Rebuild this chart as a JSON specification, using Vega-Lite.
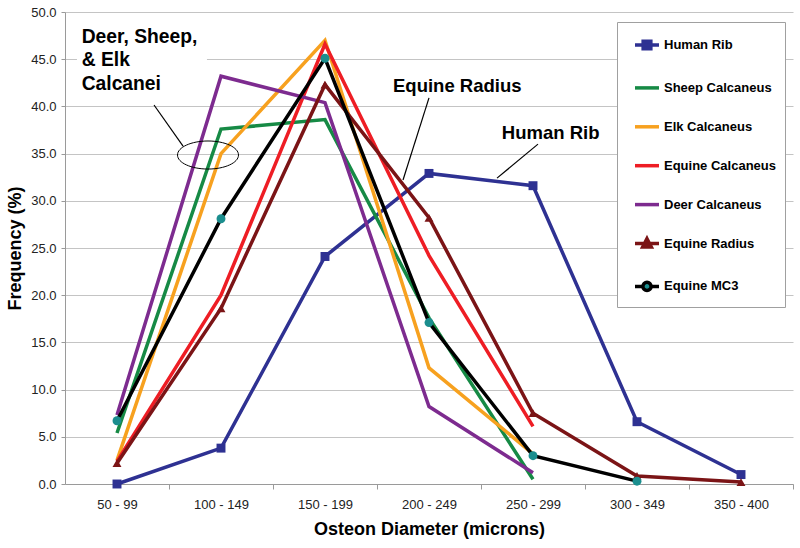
{
  "$schema": "https://vega.github.io/schema/vega-lite/v6.json",
  "width": 728,
  "height": 472,
  "autosize": {"type": "none"},
  "padding": {"left": 65, "top": 12, "right": 7, "bottom": 64},
  "background": "white",
  "config": {"font": "Liberation Sans", "view": {"stroke": null}},
  "datasets": {
    "freq": [
      {"series": "Human Rib", "bin": "50 - 99", "x": 0, "y": 0.0},
      {"series": "Human Rib", "bin": "100 - 149", "x": 1, "y": 3.8},
      {"series": "Human Rib", "bin": "150 - 199", "x": 2, "y": 24.1},
      {"series": "Human Rib", "bin": "200 - 249", "x": 3, "y": 32.9},
      {"series": "Human Rib", "bin": "250 - 299", "x": 4, "y": 31.6},
      {"series": "Human Rib", "bin": "300 - 349", "x": 5, "y": 6.6},
      {"series": "Human Rib", "bin": "350 - 400", "x": 6, "y": 1.0},
      {"series": "Sheep Calcaneus", "bin": "50 - 99", "x": 0, "y": 5.4},
      {"series": "Sheep Calcaneus", "bin": "100 - 149", "x": 1, "y": 37.6},
      {"series": "Sheep Calcaneus", "bin": "150 - 199", "x": 2, "y": 38.6},
      {"series": "Sheep Calcaneus", "bin": "200 - 249", "x": 3, "y": 17.6},
      {"series": "Sheep Calcaneus", "bin": "250 - 299", "x": 4, "y": 0.5},
      {"series": "Elk Calcaneus", "bin": "50 - 99", "x": 0, "y": 2.5},
      {"series": "Elk Calcaneus", "bin": "100 - 149", "x": 1, "y": 35.0},
      {"series": "Elk Calcaneus", "bin": "150 - 199", "x": 2, "y": 47.0},
      {"series": "Elk Calcaneus", "bin": "200 - 249", "x": 3, "y": 12.3},
      {"series": "Elk Calcaneus", "bin": "250 - 299", "x": 4, "y": 3.2},
      {"series": "Equine Calcaneus", "bin": "50 - 99", "x": 0, "y": 2.4},
      {"series": "Equine Calcaneus", "bin": "100 - 149", "x": 1, "y": 20.0},
      {"series": "Equine Calcaneus", "bin": "150 - 199", "x": 2, "y": 46.6},
      {"series": "Equine Calcaneus", "bin": "200 - 249", "x": 3, "y": 24.2},
      {"series": "Equine Calcaneus", "bin": "250 - 299", "x": 4, "y": 6.1},
      {"series": "Deer Calcaneus", "bin": "50 - 99", "x": 0, "y": 7.3},
      {"series": "Deer Calcaneus", "bin": "100 - 149", "x": 1, "y": 43.2},
      {"series": "Deer Calcaneus", "bin": "150 - 199", "x": 2, "y": 40.4},
      {"series": "Deer Calcaneus", "bin": "200 - 249", "x": 3, "y": 8.2},
      {"series": "Deer Calcaneus", "bin": "250 - 299", "x": 4, "y": 1.2},
      {"series": "Equine Radius", "bin": "50 - 99", "x": 0, "y": 2.2},
      {"series": "Equine Radius", "bin": "100 - 149", "x": 1, "y": 18.6},
      {"series": "Equine Radius", "bin": "150 - 199", "x": 2, "y": 42.3},
      {"series": "Equine Radius", "bin": "200 - 249", "x": 3, "y": 28.2},
      {"series": "Equine Radius", "bin": "250 - 299", "x": 4, "y": 7.5},
      {"series": "Equine Radius", "bin": "300 - 349", "x": 5, "y": 0.85},
      {"series": "Equine Radius", "bin": "350 - 400", "x": 6, "y": 0.2},
      {"series": "Equine MC3", "bin": "50 - 99", "x": 0, "y": 6.7},
      {"series": "Equine MC3", "bin": "100 - 149", "x": 1, "y": 28.1},
      {"series": "Equine MC3", "bin": "150 - 199", "x": 2, "y": 45.1},
      {"series": "Equine MC3", "bin": "200 - 249", "x": 3, "y": 17.1},
      {"series": "Equine MC3", "bin": "250 - 299", "x": 4, "y": 3.0},
      {"series": "Equine MC3", "bin": "300 - 349", "x": 5, "y": 0.3}
    ],
    "notes": [
      {"label": ["Deer, Sheep,", "& Elk", "Calcanei"], "x": -0.34, "y": 46.7, "big": true},
      {"label": "Equine Radius", "x": 2.654, "y": 41.5, "big": false},
      {"label": "Human Rib", "x": 3.7, "y": 36.5, "big": false}
    ],
    "leaders": [
      {"x": 0.356, "y": 40.15, "x2": 0.635, "y2": 35.8},
      {"x": 3.0, "y": 40.9, "x2": 2.75, "y2": 32.2},
      {"x": 4.048, "y": 36.0, "x2": 3.654, "y2": 32.4}
    ],
    "ring": [{"x": 0.875, "y": 34.85}],
    "mask": [{"x": -0.385, "x2": 0.865, "y": 44.0, "y2": 46.5}]
  },
  "encoding": {
    "x": {
      "field": "x",
      "type": "quantitative",
      "scale": {"domain": [-0.5, 6.5], "nice": false, "zero": false},
      "axis": {
        "values": [0, 1, 2, 3, 4, 5, 6],
        "labelExpr": "['50 - 99','100 - 149','150 - 199','200 - 249','250 - 299','300 - 349','350 - 400'][datum.value]",
        "grid": false,
        "tickOffset": 52,
        "labelOffset": -52,
        "labelFlush": false,
        "tickSize": 5,
        "tickColor": "#9a9a9a",
        "domainColor": "#9a9a9a",
        "labelFontSize": 13,
        "labelColor": "#222222",
        "labelPadding": 9,
        "title": "Osteon Diameter (microns)",
        "titleFontSize": 18,
        "titleFontWeight": "bold",
        "titleColor": "#000000",
        "titlePadding": 9
      }
    },
    "y": {
      "field": "y",
      "type": "quantitative",
      "scale": {"domain": [0, 50], "nice": false, "zero": true},
      "axis": {
        "values": [0, 5, 10, 15, 20, 25, 30, 35, 40, 45, 50],
        "format": ".1f",
        "grid": true,
        "gridColor": "#c4c4c4",
        "gridWidth": 1,
        "tickSize": 4,
        "tickColor": "#9a9a9a",
        "domainColor": "#9a9a9a",
        "labelFontSize": 13,
        "labelColor": "#222222",
        "labelPadding": 5,
        "title": "Frequency (%)",
        "titleFontSize": 18,
        "titleFontWeight": "bold",
        "titleColor": "#000000",
        "titlePadding": 6
      }
    }
  },
  "layer": [
    {
      "data": {"name": "mask"},
      "mark": {"type": "rect", "fill": "white"},
      "encoding": {"x2": {"field": "x2"}, "y2": {"field": "y2"}}
    },
    {
      "data": {"name": "freq"},
      "mark": {"type": "line", "strokeWidth": 3.5},
      "encoding": {
        "color": {
          "field": "series",
          "type": "nominal",
          "scale": {
            "domain": ["Human Rib", "Sheep Calcaneus", "Elk Calcaneus", "Equine Calcaneus", "Deer Calcaneus", "Equine Radius", "Equine MC3"],
            "range": ["#2e3192", "#168a45", "#f7a11f", "#ee1d24", "#7d2b8f", "#7b1416", "#000000"]
          },
          "legend": {
            "title": null,
            "orient": "none",
            "legendX": 552,
            "legendY": 10,
            "padding": 9,
            "symbolOffset": 7,
            "strokeColor": "#a0a0a0",
            "fillColor": "white",
            "labelFontSize": 13,
            "labelFontWeight": "bold",
            "labelColor": "#000000",
            "labelLimit": 200,
            "labelOffset": 3,
            "symbolType": "stroke",
            "symbolSize": 576,
            "symbolStrokeWidth": 3.5,
            "rowPadding": 17.9,
            "encode": {
              "symbols": {
                "update": {
                  "shape": {"signal": "datum.value === 'Human Rib' ? 'M-1,0H1M-0.32,-0.32H0.32V0.32H-0.32Z' : datum.value === 'Equine Radius' ? 'M-1,0H1M0,-0.4L0.36,0.3H-0.36Z' : datum.value === 'Equine MC3' ? 'M-1,0H-0.34M0.34,0H1M0.34,0A0.34,0.34 0 1,1 -0.34,0A0.34,0.34 0 1,1 0.34,0Z' : 'stroke'"},
                  "fill": {"signal": "datum.value === 'Human Rib' ? '#2e3192' : datum.value === 'Equine Radius' ? '#7b1416' : datum.value === 'Equine MC3' ? '#1b8e8e' : 'transparent'"}
                }
              }
            }
          }
        }
      }
    },
    {
      "data": {"name": "freq"},
      "transform": [{"filter": "indexof(['Human Rib','Equine Radius','Equine MC3'], datum.series) >= 0"}],
      "mark": {"type": "point", "filled": true, "opacity": 1, "size": 80},
      "encoding": {
        "shape": {
          "field": "series",
          "type": "nominal",
          "scale": {"domain": ["Human Rib", "Equine Radius", "Equine MC3"], "range": ["square", "triangle-up", "circle"]},
          "legend": null
        },
        "fill": {
          "field": "series",
          "type": "nominal",
          "scale": {"domain": ["Human Rib", "Equine Radius", "Equine MC3"], "range": ["#2e3192", "#7b1416", "#1b8e8e"]},
          "legend": null
        }
      }
    },
    {
      "data": {"name": "leaders"},
      "mark": {"type": "rule", "color": "#000000", "strokeWidth": 1.2},
      "encoding": {"x2": {"field": "x2"}, "y2": {"field": "y2"}}
    },
    {
      "data": {"name": "ring"},
      "mark": {"type": "point", "shape": "M-1,0A1,0.46 0 1,1 1,0A1,0.46 0 1,1 -1,0Z", "size": 3721, "filled": false, "stroke": "#000000", "strokeWidth": 1, "opacity": 1},
      "encoding": {}
    },
    {
      "data": {"name": "notes"},
      "mark": {"type": "text", "align": "left", "baseline": "alphabetic", "fontWeight": "bold", "lineHeight": 23.2, "color": "#000000"},
      "encoding": {
        "text": {"field": "label"},
        "size": {"field": "big", "type": "nominal", "scale": {"domain": [true, false], "range": [19.3, 18.5]}, "legend": null}
      }
    }
  ]
}
